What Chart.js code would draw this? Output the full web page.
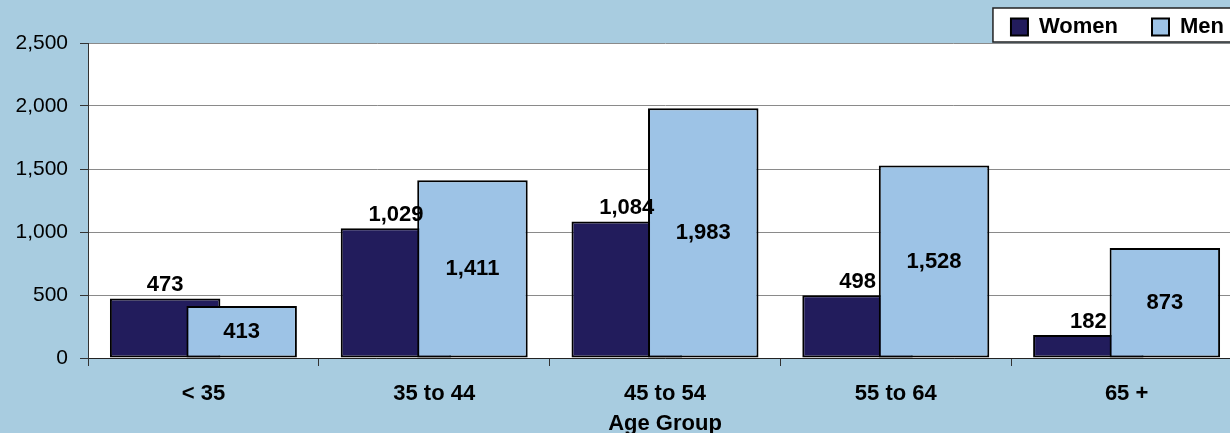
<!DOCTYPE html>
<html>
<head>
<meta charset="utf-8">
<script src="https://cdn.jsdelivr.net/npm/chart.js@4"></script>
<style>
  html, body { margin: 0; padding: 0; overflow: hidden; background: #A8CCE0; }
  #wrap { position: absolute; left: 0; top: 0; width: 1250px; height: 433px; }
</style>
</head>
<body>
<div id="wrap"><canvas id="ageChart" width="1250" height="433"></canvas></div>
<script>
const categories = ["< 35", "35 to 44", "45 to 54", "55 to 64", "65 +"];
const women = [473, 1029, 1084, 498, 182];
const men = [413, 1411, 1983, 1528, 873];
const yTicks = [0, 500, 1000, 1500, 2000, 2500];

const FONT = "'Liberation Sans', Arial, sans-serif";
const fmt = (v) => v.toLocaleString("en-US");

// white plot area + bordered legend box
const backdrop = {
  id: "backdrop",
  afterLayout(chart) {
    chart.legend.top -= 18;
    chart.legend.right += 16;
  },
  beforeDraw(chart) {
    const { ctx, chartArea } = chart;
    ctx.save();
    ctx.fillStyle = "#ffffff";
    ctx.fillRect(chartArea.left, chartArea.top, chartArea.right - chartArea.left, chartArea.bottom - chartArea.top);
    const hb = chart.legend.legendHitBoxes;
    if (hb && hb.length) {
      const x0 = hb[0].left - 18;
      ctx.fillRect(x0, 8, chart.width - x0 + 10, 34);
      ctx.strokeStyle = "#222";
      ctx.lineWidth = 1.5;
      ctx.strokeRect(x0, 8, chart.width - x0 + 10, 34);
    }
    ctx.restore();
  },
};

// men bars drawn over women bars, then the value labels
const menOnTop = {
  id: "menOnTop",
  beforeDatasetDraw(chart, args) {
    if (args.index === 1 && !chart.$late) return false;
  },
  afterDatasetsDraw(chart) {
    chart.$late = true;
    chart.getDatasetMeta(1).controller.draw();
    chart.$late = false;

    const ctx = chart.ctx;
    ctx.save();
    ctx.font = "bold 22px " + FONT;
    ctx.fillStyle = "#000";
    ctx.textAlign = "center";
    ctx.textBaseline = "middle";
    chart.getDatasetMeta(0).data.forEach((bar, i) => {
      ctx.fillText(fmt(women[i]), bar.x, bar.y - 13);
    });
    chart.getDatasetMeta(1).data.forEach((bar, i) => {
      ctx.fillText(fmt(men[i]), bar.x, (bar.y + bar.base) / 2);
    });
    ctx.restore();
  },
};

new Chart(document.getElementById("ageChart").getContext("2d"), {
  type: "bar",
  data: {
    labels: categories,
    datasets: [
      {
        label: "Women",
        data: women,
        backgroundColor: "#221C5C",
        borderColor: "#000",
        borderWidth: 2,
        borderSkipped: false,
        categoryPercentage: 0.663,
        barPercentage: 1.444,
      },
      {
        label: "Men",
        data: men,
        backgroundColor: "#9DC3E6",
        borderColor: "#000",
        borderWidth: 2,
        borderSkipped: false,
        categoryPercentage: 0.663,
        barPercentage: 1.444,
      },
    ],
  },
  options: {
    responsive: false,
    animation: false,
    devicePixelRatio: 1,
    layout: { padding: { left: 0, right: 8, top: 0, bottom: 0 } },
    plugins: {
      tooltip: { enabled: false },
      legend: {
        position: "top",
        align: "end",
        maxHeight: 43,
        labels: {
          color: "#000",
          font: { family: FONT, size: 22, weight: "bold" },
          boxWidth: 17,
          boxHeight: 17,
          padding: 34,
        },
      },
    },
    scales: {
      x: {
        afterFit(scale) { scale.height = 75; },
        grid: {
          display: true,
          drawOnChartArea: false,
          drawTicks: true,
          tickLength: 8,
          color: "#333",
          offset: true,
        },
        border: { color: "#222", width: 1 },
        ticks: {
          color: "#000",
          font: { family: FONT, size: 22, weight: "bold" },
          padding: 15,
          maxRotation: 0,
          autoSkip: false,
        },
        title: {
          display: true,
          text: "Age Group",
          color: "#000",
          font: { family: FONT, size: 22, weight: "bold", lineHeight: 1 },
          padding: { top: 0, bottom: -2 },
        },
      },
      y: {
        min: yTicks[0],
        max: yTicks[yTicks.length - 1],
        afterFit(scale) { scale.width = 88; },
        afterBuildTicks(scale) { scale.ticks = yTicks.map((v) => ({ value: v })); },
        grid: {
          color: "#8a8a8a",
          lineWidth: 1,
          tickLength: 8,
          tickColor: "#333",
        },
        border: { color: "#333", width: 1 },
        ticks: {
          color: "#000",
          font: { family: FONT, size: 21 },
          padding: 12,
          callback: (v) => fmt(v),
        },
      },
    },
  },
  plugins: [backdrop, menOnTop],
});
</script>
</body>
</html>
